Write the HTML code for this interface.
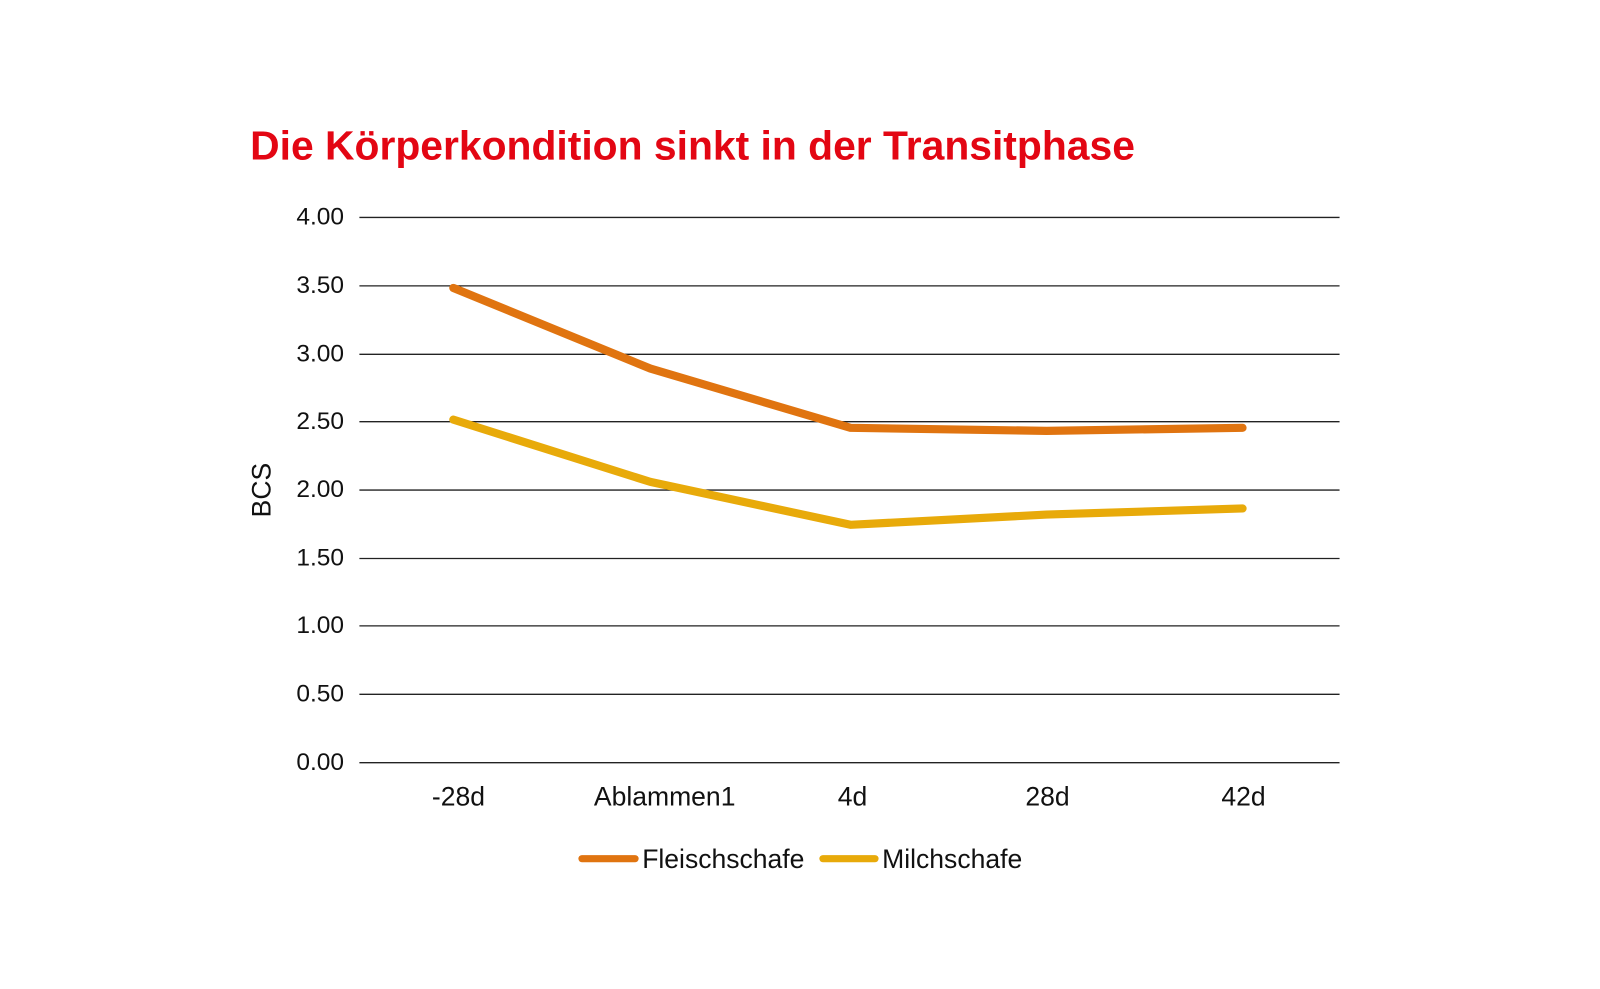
<!DOCTYPE html>
<html><head><meta charset="utf-8"><style>
html,body{margin:0;padding:0;background:#fff;}
</style></head><body>
<svg width="1600" height="984" xmlns="http://www.w3.org/2000/svg" font-family="Liberation Sans, sans-serif">
<rect width="1600" height="984" fill="#fff"/>
<g transform="scale(1.021)">
<text x="245" y="156" font-size="40" font-weight="bold" fill="#e30613">Die Körperkondition sinkt in der Transitphase</text>
<g stroke="#222" stroke-width="1.3">
<line x1="352" y1="213" x2="1312" y2="213"/>
<line x1="352" y1="280" x2="1312" y2="280"/>
<line x1="352" y1="347" x2="1312" y2="347"/>
<line x1="352" y1="413" x2="1312" y2="413"/>
<line x1="352" y1="480" x2="1312" y2="480"/>
<line x1="352" y1="547" x2="1312" y2="547"/>
<line x1="352" y1="613" x2="1312" y2="613"/>
<line x1="352" y1="680" x2="1312" y2="680"/>
<line x1="352" y1="747" x2="1312" y2="747"/>
</g>
<g font-size="24" fill="#111" text-anchor="end">
<text x="337" y="220">4.00</text>
<text x="337" y="287">3.50</text>
<text x="337" y="354">3.00</text>
<text x="337" y="420">2.50</text>
<text x="337" y="487">2.00</text>
<text x="337" y="554">1.50</text>
<text x="337" y="620">1.00</text>
<text x="337" y="687">0.50</text>
<text x="337" y="754">0.00</text>
</g>
<text transform="translate(265,480) rotate(-90)" font-size="26" fill="#111" text-anchor="middle">BCS</text>
<g font-size="26" fill="#111" text-anchor="middle">
<text x="449" y="789">-28d</text>
<text x="651" y="789">Ablammen1</text>
<text x="835" y="789">4d</text>
<text x="1026" y="789">28d</text>
<text x="1218" y="789">42d</text>
</g>
<polyline points="444,282 637,361 833,419 1025,422 1217,419" fill="none" stroke="#e07410" stroke-width="8" stroke-linecap="round" stroke-linejoin="round"/>
<polyline points="444,411 637,472 833,514 1025,504 1217,498" fill="none" stroke="#e8aa0a" stroke-width="8" stroke-linecap="round" stroke-linejoin="round"/>
<line x1="570" y1="841" x2="622" y2="841" stroke="#e07410" stroke-width="7" stroke-linecap="round"/>
<text x="629" y="850" font-size="26" fill="#111">Fleischschafe</text>
<line x1="806" y1="841" x2="857" y2="841" stroke="#e8aa0a" stroke-width="7" stroke-linecap="round"/>
<text x="864" y="850" font-size="26" fill="#111">Milchschafe</text>
</g>
</svg>
</body></html>
